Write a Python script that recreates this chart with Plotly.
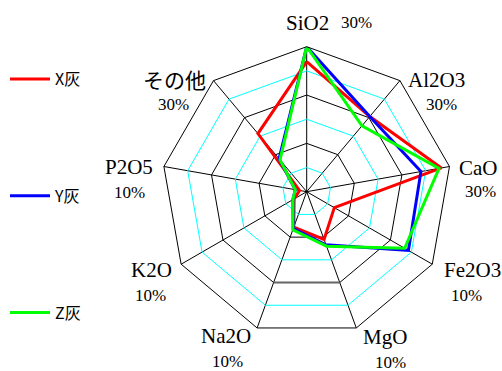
import plotly.graph_objects as go

# Oxide composition radar: each spoke has its own full-scale value
categories = ["SiO2", "Al2O3", "CaO", "Fe2O3", "MgO", "Na2O", "K2O", "P2O5", "その他"]
axis_max = [30, 30, 30, 10, 10, 10, 10, 10, 30]
scale_labels = ["30%", "30%", "30%", "10%", "10%", "10%", "10%", "10%", "30%"]

x_ash = [26.9, 20.3, 28.3, 2.2, 3.5, 2.6, 1.0, 0.5, 15.7]
y_ash = [30.0, 20.3, 24.0, 8.1, 3.9, 2.7, 1.1, 0.8, 8.9]
z_ash = [30.0, 17.8, 27.8, 7.8, 4.0, 2.8, 1.1, 0.8, 8.6]

series_names = ["X灰", "Y灰", "Z灰"]
series_colors = ["#ff0000", "#0000ff", "#00ff00"]

ring_count = 6

W, H = 502, 371
cx, cy, R = 306.7, 191.7, 145.0

fig = go.Figure()

theta_closed = categories + categories[:1]

# grid rings: cyan and black alternating
for k in range(1, ring_count):
    fig.add_trace(go.Scatterpolar(
        r=[k / ring_count] * len(theta_closed), theta=theta_closed,
        mode="lines", line=dict(color="#00ffff" if k % 2 else "#000000", width=1),
        showlegend=False, hoverinfo="skip"))

# highlighted ring segment between Na2O and MgO
fig.add_trace(go.Scatterpolar(
    r=[4 / ring_count, 4 / ring_count], theta=["Na2O", "MgO"],
    mode="lines", line=dict(color="#666666", width=2),
    showlegend=False, hoverinfo="skip"))

for name, vals, col in zip(series_names, [x_ash, y_ash, z_ash], series_colors):
    frac = [v / m for v, m in zip(vals, axis_max)]
    fig.add_trace(go.Scatterpolar(
        r=frac + frac[:1], theta=theta_closed, mode="lines", name=name,
        legendgroup=name, line=dict(color=col, width=3)))

# axis labels: name plus its full-scale value
name_pos = [(307, 23), (436, 80), (478, 168), (472, 270), (385, 337),
            (226, 336), (151, 270), (129, 167), (174, 81)]
scale_pos = [(356, 23), (441, 105), (480, 191), (466, 295), (390, 362),
             (227, 361), (150, 295), (129, 192), (173, 105)]

annotations = []
for cat, (px, py) in zip(categories, name_pos):
    annotations.append(dict(
        x=px / W, y=1 - py / H, xref="paper", yref="paper", text=cat,
        showarrow=False, xanchor="center", yanchor="middle",
        font=dict(family="Liberation Serif, Noto Sans CJK JP", size=21, color="#000000")))
for lab, (px, py) in zip(scale_labels, scale_pos):
    annotations.append(dict(
        x=px / W, y=1 - py / H, xref="paper", yref="paper", text=lab,
        showarrow=False, xanchor="center", yanchor="middle",
        font=dict(family="Liberation Serif", size=17, color="#000000")))

fig.update_layout(
    width=W, height=H,
    margin=dict(l=0, r=0, t=0, b=0),
    paper_bgcolor="white", plot_bgcolor="white",
    polar=dict(
        domain=dict(x=[(cx - R) / W, (cx + R) / W],
                    y=[1 - (cy + R) / H, 1 - (cy - R) / H]),
        bgcolor="white",
        gridshape="linear",
        radialaxis=dict(range=[0, 1], visible=False, showgrid=False),
        angularaxis=dict(type="category", categoryorder="array", categoryarray=categories,
                         direction="clockwise", rotation=90,
                         showticklabels=False, ticks="",
                         showgrid=True, gridcolor="#000000", gridwidth=1,
                         showline=True, linecolor="#000000", linewidth=1),
    ),
    legend=dict(x=5 / W, y=1 - 62 / H, xanchor="left", yanchor="top",
                tracegroupgap=93, itemwidth=40, bgcolor="rgba(0,0,0,0)",
                font=dict(family="Noto Sans CJK JP", size=16, color="#000000")),
    annotations=annotations,
)

fig.write_html("out.html")
